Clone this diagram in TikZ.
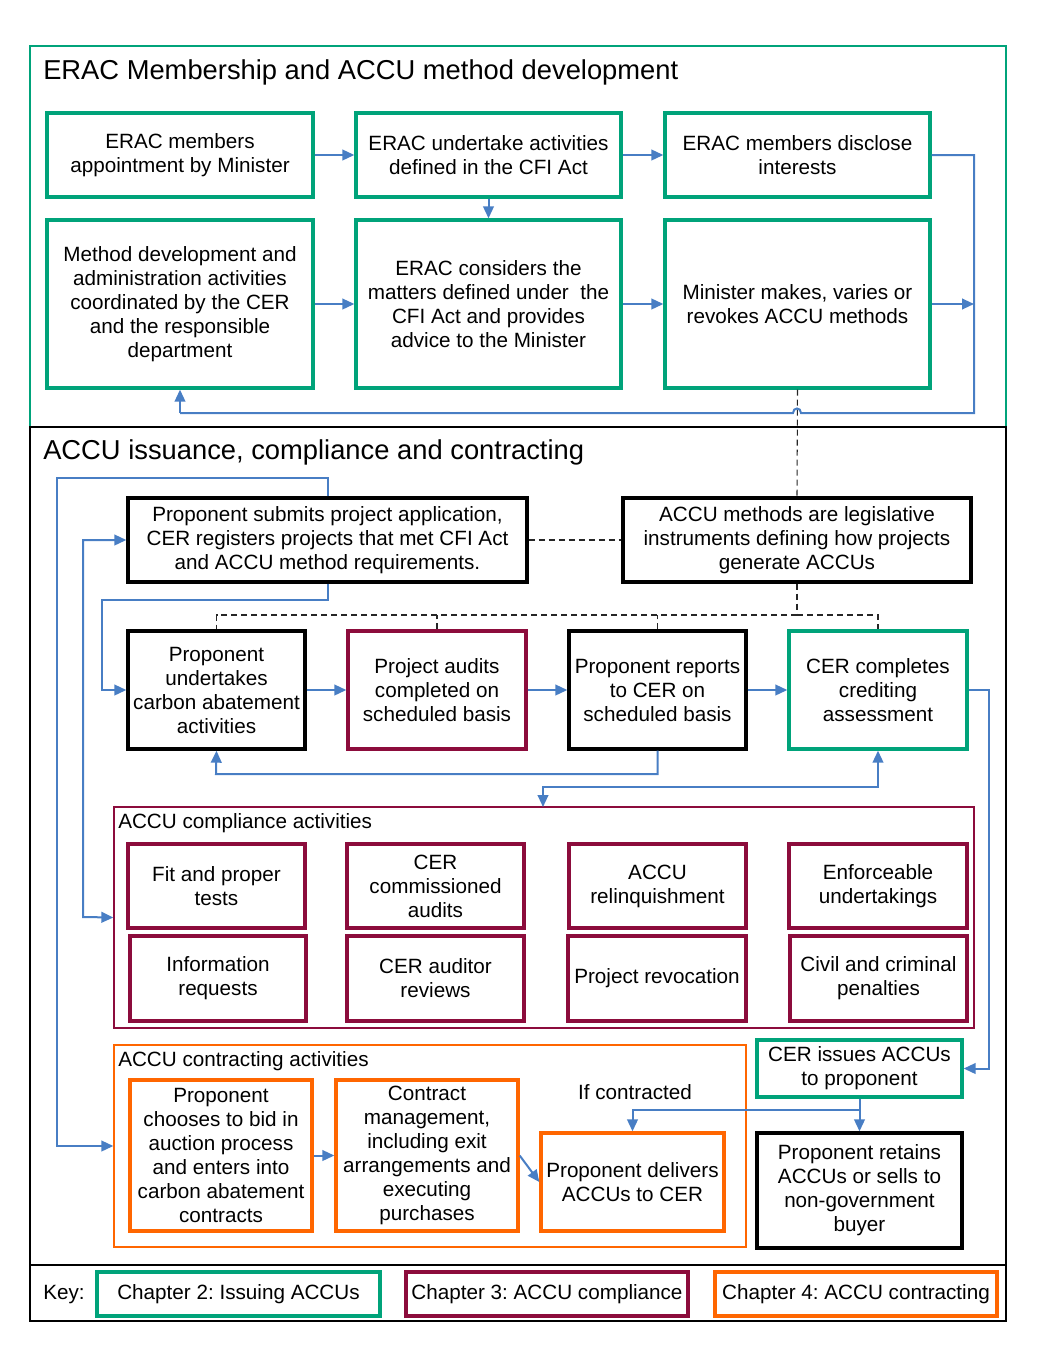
\documentclass[tikz,border=0pt]{standalone}
\usepackage{fontspec}
\setmainfont{Liberation Sans}
\frenchspacing
\usetikzlibrary{arrows.meta}
\definecolor{cteal}{RGB}{0,163,122}
\definecolor{ccrim}{RGB}{140,12,60}
\definecolor{corng}{RGB}{255,102,0}
\definecolor{cblue}{RGB}{72,126,196}
\newcommand\mkbox[7]{%
  \pgfmathsetmacro\mbcx{(#3+#5)/2}\pgfmathsetmacro\mbcy{(#4+#6)/2}%
  \pgfmathsetmacro\mbww{(#5-#3)*0.75}\pgfmathsetmacro\mbhh{(#6-#4)*0.75}%
  \node[#2, minimum width=\mbww pt, minimum height=\mbhh pt] (#1) at (\mbcx,\mbcy) {#7};}
\tikzset{
  bx/.style={draw, line width=2.5pt, inner sep=0pt, align=center, font=\fontsize{15.5}{18}\selectfont},
  tbox/.style={bx, draw=cteal},
  cbox/.style={bx, draw=ccrim},
  obox/.style={bx, draw=corng},
  kbox/.style={bx, draw=black},
  frm/.style={draw, line width=1pt, inner sep=0pt},
  tip/.tip={Triangle[length=9pt,width=8pt]},
  conn/.style={draw=cblue, line width=1.5pt, -tip},
  conn2/.style={draw=cblue, line width=1.5pt, tip-tip},
  plain/.style={draw=cblue, line width=1.5pt},
  dsh/.style={draw=black!85, line width=0.8pt, dash pattern=on 4.5pt off 3pt},
  ttl/.style={font=\fontsize{20.5}{24}\selectfont, anchor=base west, inner sep=0pt},
  sttl/.style={font=\fontsize{15.5}{18}\selectfont, anchor=base west, inner sep=0pt},
}
\begin{document}
\begin{tikzpicture}[x=0.75pt,y=-0.75pt]
\useasboundingbox (0,0) rectangle (1038,1368);
% frames
\mkbox{topf}{frm, draw=cteal}{30}{46}{1006}{427}{}
\mkbox{botf}{frm, draw=black}{30}{427}{1006}{1321}{}
\coordinate (keyl) at (30,1265);
\coordinate (keyr) at (1006,1265);
\draw[line width=1pt] (keyl) -- (keyr);
\mkbox{compf}{frm, draw=ccrim}{114}{807}{974}{1028}{}
\mkbox{contf}{frm, draw=corng}{114}{1045}{746}{1247}{}
% titles
\node[ttl] (t1) at (43,79) {ERAC Membership and ACCU method development};
\node[ttl] (t2) at (43,459) {ACCU issuance, compliance and contracting};
\node[sttl] (t3) at (118,828) {ACCU compliance activities};
\node[sttl] (t4) at (118,1066) {ACCU contracting activities};
% top boxes
\mkbox{A1}{tbox}{47}{113}{313}{197}{ERAC members\\appointment by Minister}
\mkbox{A2}{tbox}{356}{113}{621}{197}{ERAC undertake activities\\defined in the CFI Act}
\mkbox{A3}{tbox}{665}{113}{930}{197}{ERAC members disclose\\interests}
\mkbox{B1}{tbox}{47}{220}{313}{388}{Method development and\\administration activities\\coordinated by the CER\\and the responsible\\department}
\mkbox{B2}{tbox}{356}{220}{621}{388}{ERAC considers the\\matters defined under~ the\\CFI Act and provides\\advice to the Minister}
\mkbox{B3}{tbox}{665}{220}{930}{388}{Minister makes, varies or\\revokes ACCU methods}
% middle
\mkbox{C1}{kbox}{128}{498}{527}{582}{Proponent submits project application,\\CER registers projects that met CFI Act\\and ACCU method requirements.}
\mkbox{C2}{kbox}{623}{498}{971}{582}{ACCU methods are legislative\\instruments defining how projects\\generate ACCUs}
\mkbox{D1}{kbox}{128}{631}{305}{749}{Proponent\\undertakes\\carbon abatement\\activities}
\mkbox{D2}{cbox}{348}{631}{526}{749}{Project audits\\completed on\\scheduled basis}
\mkbox{D3}{kbox}{569}{631}{746}{749}{Proponent reports\\to CER on\\scheduled basis}
\mkbox{D4}{tbox}{789}{631}{967}{749}{CER completes\\crediting\\assessment}
% compliance
\mkbox{E1}{cbox}{128}{844}{305}{928}{Fit and proper\\tests}
\mkbox{E2}{cbox}{347}{844}{524}{928}{CER\\commissioned\\audits}
\mkbox{E3}{cbox}{569}{844}{746}{928}{ACCU\\relinquishment}
\mkbox{E4}{cbox}{789}{844}{967}{928}{Enforceable\\undertakings}
\mkbox{F1}{cbox}{130}{936}{306}{1021}{Information\\requests}
\mkbox{F2}{cbox}{347}{936}{524}{1021}{CER auditor\\reviews}
\mkbox{F3}{cbox}{568}{936}{746}{1021}{Project revocation}
\mkbox{F4}{cbox}{790}{936}{967}{1021}{Civil and criminal\\penalties}
% contracting
\mkbox{G1}{obox}{130}{1080}{312}{1231}{Proponent\\chooses to bid in\\auction process\\and enters into\\carbon abatement\\contracts}
\mkbox{G2}{obox}{336}{1080}{518}{1231}{Contract\\management,\\including exit\\arrangements and\\executing\\purchases}
\mkbox{G3}{obox}{541}{1133}{724}{1231}{Proponent delivers\\ACCUs to CER}
\mkbox{H1}{tbox}{757}{1040}{962}{1097}{CER issues ACCUs\\to proponent}
\mkbox{H2}{kbox}{757}{1133}{962}{1248}{Proponent retains\\ACCUs or sells to\\non-government\\buyer}
\node[sttl, anchor=base] (ifc) at (635,1099) {If contracted};
% key
\node[sttl] (key) at (43,1299) {Key:};
\mkbox{K1}{tbox}{97}{1272}{380}{1316}{Chapter 2: Issuing ACCUs}
\mkbox{K2}{cbox}{406}{1272}{688}{1316}{Chapter 3: ACCU compliance}
\mkbox{K3}{obox}{715}{1272}{997}{1316}{Chapter 4: ACCU contracting}
% dashed connectors
\draw[dsh] (B3.south) -- (C2.north);
\draw[dsh] (C1.east) -- (C2.west);
\coordinate (dj) at (797,615);
\draw[dsh] (C2.south) -- (dj);
\draw[dsh] (dj) -| (D1.north);
\draw[dsh] (dj) -| (D4.north);
\draw[dsh] (D2.north) -- (D2.north |- dj);
\draw[dsh] (D3.north) -- (D3.north |- dj);
% top connectors
\draw[conn] (A1.east) -- (A2.west);
\draw[conn] (A2.east) -- (A3.west);
\draw[conn] (A2.south) -- (B2.north);
\draw[conn] (B1.east) -- (B2.west);
\draw[conn] (B2.east) -- (B3.west);
\coordinate (rr) at (974,304);
\draw[conn] (B3.east) -- (rr);
\coordinate (rb) at (974,413);
\draw[plain] (A3.east) -| (rb) -- (801,413) .. controls (801,407) and (793,407) .. (793,413) -- (180,413);
\draw[conn] (180,413) -- (B1.south);
% middle connectors
\draw[conn] (C1.north) |- (57,478) |- (contf.west);
\draw[conn] (C1.south) |- (102,600) |- (D1.west);
\draw[conn2] (C1.west) -| (83,917) -- (compf.west);
\draw[conn] (D1.east) -- (D2.west);
\draw[conn] (D2.east) -- (D3.west);
\draw[conn] (D3.east) -- (D4.west);
\draw[conn] (D3.south) |- (216,774) -- (D1.south);
\draw[conn2] (D4.south) |- (543,787) -- (543,807);
\draw[conn] (D4.east) -| (989,1068.5) -- (H1.east);
% bottom connectors
\draw[conn] (H1.south) -- (H2.north);
\draw[conn] (859.5,1110) -| (G3.north);
\draw[conn] (G1.east) -- (G2.west);
\draw[conn] (G2.east) -- (G3.west);
\end{tikzpicture}
\end{document}
